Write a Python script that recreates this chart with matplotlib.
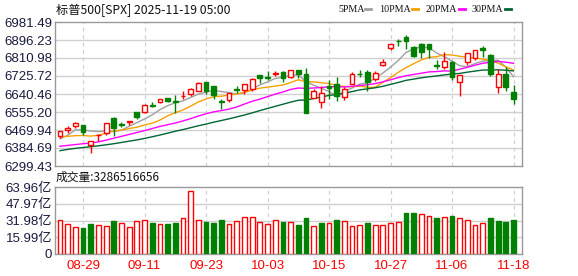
import matplotlib.pyplot as plt
import numpy as np

plt.rcParams['font.family'] = ['Liberation Sans', 'Noto Sans CJK SC', 'DejaVu Sans']

# trading days shown (08-26 .. 11-18)
dates = ['08-26', '08-27', '08-28', '08-29', '09-02', '09-03', '09-04', '09-05', '09-08', '09-09',
         '09-10', '09-11', '09-12', '09-15', '09-16', '09-17', '09-18', '09-19', '09-22', '09-23',
         '09-24', '09-25', '09-26', '09-29', '09-30', '10-01', '10-02', '10-03', '10-06', '10-07',
         '10-08', '10-09', '10-10', '10-13', '10-14', '10-15', '10-16', '10-17', '10-20', '10-21',
         '10-22', '10-23', '10-24', '10-27', '10-28', '10-29', '10-30', '10-31', '11-03', '11-04',
         '11-05', '11-06', '11-07', '11-10', '11-11', '11-12', '11-13', '11-14', '11-17', '11-18']

opens = [6441, 6468, 6490, 6492, 6401, 6444, 6456, 6527, 6498, 6506,
         6553, 6556, 6590, 6603, 6620, 6608, 6629, 6641, 6655, 6696,
         6678, 6607, 6614, 6663, 6661, 6665, 6731, 6722, 6737, 6746,
         6722, 6753, 6735, 6623, 6604, 6680, 6686, 6625, 6690, 6737,
         6745, 6710, 6776, 6856, 6893, 6910, 6865, 6877, 6875, 6776,
         6770, 6790, 6697, 6790, 6810, 6859, 6826, 6675, 6735, 6648]
highs = [6467, 6487, 6510, 6494, 6417, 6453, 6503, 6533, 6508, 6513,
         6555, 6593, 6601, 6616, 6619, 6638, 6656, 6671, 6699, 6697,
         6679, 6617, 6646, 6679, 6689, 6718, 6731, 6751, 6749, 6749,
         6755, 6756, 6764, 6664, 6680, 6709, 6722, 6672, 6744, 6752,
         6752, 6750, 6807, 6876, 6901, 6920, 6869, 6880, 6879, 6803,
         6839, 6799, 6731, 6832, 6850, 6870, 6829, 6760, 6767, 6684]
lows = [6434, 6458, 6478, 6444, 6361, 6417, 6445, 6443, 6484, 6493,
        6522, 6551, 6578, 6600, 6601, 6551, 6619, 6633, 6655, 6642,
        6618, 6570, 6604, 6643, 6640, 6657, 6693, 6707, 6728, 6699,
        6715, 6717, 6550, 6623, 6575, 6618, 6605, 6610, 6690, 6722,
        6653, 6700, 6774, 6850, 6870, 6855, 6818, 6810, 6812, 6759,
        6760, 6708, 6632, 6777, 6803, 6818, 6724, 6646, 6654, 6591]
closes = [6465.9, 6481.4, 6501.9, 6460.3, 6415.5, 6448.3, 6502.1, 6481.5, 6495.2, 6512.6,
          6532.0, 6587.5, 6584.3, 6615.3, 6606.8, 6600.4, 6632.0, 6664.4, 6693.8, 6656.9,
          6638.0, 6604.7, 6643.7, 6661.2, 6688.5, 6711.2, 6715.4, 6715.8, 6740.3, 6714.6,
          6753.7, 6735.1, 6552.5, 6654.7, 6644.3, 6671.1, 6629.1, 6664.0, 6735.1, 6735.4,
          6699.4, 6738.4, 6791.7, 6875.2, 6890.9, 6890.6, 6822.3, 6840.2, 6852.0, 6771.6,
          6796.3, 6720.3, 6728.8, 6832.4, 6846.6, 6850.9, 6737.5, 6734.1, 6672.4, 6617.3]
prev_close = 6439.3

# volume in 亿
volume = [32.3, 28.4, 25.6, 24.9, 28.7, 27.5, 26.5, 31.6, 29.4, 25.6,
          31.3, 32.3, 29.7, 28.4, 28.4, 29.4, 34.2, 60.0, 32.3, 30.6,
          29.7, 32.6, 28.4, 31.3, 35.1, 35.1, 30.3, 28.4, 32.3, 30.6,
          30.4, 27.8, 34.0, 27.1, 29.4, 30.0, 32.6, 31.6, 27.0, 28.0,
          30.0, 28.0, 28.0, 30.0, 31.0, 39.6, 38.9, 38.0, 36.7, 34.2,
          35.4, 36.4, 34.2, 32.6, 27.8, 29.4, 34.2, 31.9, 30.9, 32.87]

ma5 = [6428, 6445, 6471, 6470, 6465, 6462, 6466, 6462, 6469, 6488,
       6505, 6522, 6542, 6566, 6585, 6599, 6608, 6624, 6640, 6650,
       6657, 6652, 6647, 6641, 6647, 6662, 6684, 6698, 6714, 6720,
       6728, 6732, 6699, 6682, 6668, 6652, 6630, 6653, 6669, 6687,
       6693, 6715, 6740, 6768, 6799, 6837, 6854, 6864, 6859, 6835,
       6817, 6796, 6774, 6770, 6785, 6796, 6799, 6800, 6768, 6722]
ma10 = [6438, 6440, 6443, 6444, 6441, 6445, 6455, 6466, 6469, 6477,
        6483, 6494, 6502, 6517, 6537, 6552, 6565, 6583, 6603, 6617,
        6628, 6630, 6636, 6640, 6648, 6660, 6668, 6673, 6678, 6683,
        6695, 6708, 6699, 6698, 6694, 6690, 6681, 6676, 6675, 6678,
        6672, 6672, 6696, 6718, 6743, 6765, 6784, 6802, 6814, 6817,
        6827, 6825, 6819, 6815, 6810, 6806, 6798, 6787, 6769, 6754]
ma20 = [6393, 6397, 6401, 6405, 6408, 6414, 6422, 6431, 6440, 6449,
        6458, 6467, 6477, 6487, 6495, 6503, 6513, 6524, 6536, 6547,
        6556, 6562, 6569, 6579, 6593, 6606, 6616, 6628, 6640, 6650,
        6662, 6669, 6667, 6669, 6671, 6675, 6675, 6674, 6677, 6681,
        6684, 6690, 6698, 6708, 6718, 6727, 6733, 6739, 6745, 6747,
        6750, 6749, 6758, 6767, 6777, 6786, 6791, 6795, 6791, 6786]
ma30 = [6372, 6378, 6383, 6387, 6391, 6395, 6400, 6405, 6411, 6417,
        6423, 6430, 6438, 6446, 6455, 6464, 6472, 6481, 6490, 6498,
        6507, 6515, 6523, 6532, 6541, 6551, 6562, 6572, 6582, 6592,
        6602, 6611, 6612, 6619, 6626, 6634, 6638, 6644, 6652, 6660,
        6665, 6670, 6677, 6686, 6695, 6705, 6711, 6717, 6722, 6726,
        6731, 6735, 6738, 6744, 6749, 6754, 6754, 6755, 6753, 6750]

price_ticks = [6299.43, 6384.69, 6469.94, 6555.20, 6640.46, 6725.72, 6810.98, 6896.23, 6981.49]
vol_ticks = [0, 15.99, 31.98, 47.97, 63.96]
label_dates = ['08-29', '09-11', '09-23', '10-03', '10-15', '10-27', '11-06', '11-18']

RED = '#ff0000'
GREEN = '#008000'
FRAME = '#999999'
GRID = '#d0d0d0'
TXT = '#1a1a40'

W, H = 578, 276
fig = plt.figure(figsize=(W / 100, H / 100), dpi=100)
ax = fig.add_axes([55 / W, 1 - 166 / H, 467 / W, 144 / H])
axv = fig.add_axes([55 / W, 1 - 254 / H, 467 / W, 67 / H])

x = np.arange(len(dates))
o = np.array(opens)
c = np.array(closes)
up = c >= o
label_idx = [dates.index(d) for d in label_dates]

for a in (ax, axv):
    a.set_xlim(-0.65, 60.1)
    for s in a.spines.values():
        s.set_color(FRAME)
        s.set_linewidth(1)
    for i in label_idx:
        a.axvline(i, color=GRID, lw=0.9, ls=(0, (3, 3)), zorder=0)
    a.tick_params(length=0, labelsize=9.5, colors=TXT, pad=2)
    a.set_xticks([])

# price panel
ax.set_ylim(price_ticks[0], price_ticks[-1])
ax.set_yticks(price_ticks)
ax.set_yticklabels(['%.2f' % v for v in price_ticks])
for v in price_ticks[1:-1]:
    ax.axhline(v, color=GRID, lw=1, zorder=0)

ax.plot(x, ma5, color='#a0a0a0', lw=1, zorder=2)
ax.plot(x, ma10, color='#f5a000', lw=1, zorder=2)
ax.plot(x, ma20, color='#ff00ff', lw=1, zorder=2)
ax.plot(x, ma30, color='#006633', lw=1, zorder=2)

cols = np.where(up, RED, GREEN)
ax.vlines(x, lows, highs, colors=cols, lw=1, zorder=3)
body_lo = np.minimum(o, c)
body_h = np.maximum(np.abs(c - o), 1.2)
ax.bar(x[up], body_h[up], bottom=body_lo[up], width=0.62, facecolor='white',
       edgecolor=RED, lw=1, zorder=4)
ax.bar(x[~up], body_h[~up], bottom=body_lo[~up], width=0.62, facecolor=GREEN,
       edgecolor=GREEN, lw=1, zorder=4)

# volume panel
axv.set_ylim(0, vol_ticks[-1])
axv.set_yticks(vol_ticks)
axv.set_yticklabels(['0'] + ['%.2f亿' % v for v in vol_ticks[1:]])
for v in vol_ticks[1:-1]:
    axv.axhline(v, color=GRID, lw=1, zorder=0)
pc = np.array([prev_close] + closes[:-1])
vup = c >= pc
vol = np.array(volume)
axv.bar(x[vup], vol[vup], width=0.62, facecolor='white', edgecolor=RED, lw=1, zorder=3)
axv.bar(x[~vup], vol[~vup], width=0.62, facecolor=GREEN, edgecolor=GREEN, lw=1, zorder=3)

# date labels under the volume panel
for i, d in zip(label_idx, label_dates):
    xf = (55 + (i + 0.65) / 60.75 * 467) / W
    fig.text(xf, 1 - 266 / H, d, ha='center', va='center', color=RED, fontsize=9.5)

# header texts
fig.text(56 / W, 1 - 10 / H, '标普500[SPX] 2025-11-19 05:00', fontsize=8.8,
         family=['Noto Sans CJK SC', 'DejaVu Sans'], va='center', ha='left', color='#111111')
fig.text(56 / W, 1 - 177 / H, '成交量:3286516656', fontsize=8.5,
         family=['Noto Sans CJK SC', 'DejaVu Sans'], va='center', ha='left', color='#111111')

legend = [('5PMA', '#a0a0a0', 338, 365), ('10PMA', '#f5a000', 379, 412),
          ('20PMA', '#ff00ff', 426, 459), ('30PMA', '#006633', 472, 505)]
for name, col, px, mx in legend:
    fig.text(px / W, 1 - 9 / H, name, fontsize=7.2, family='Liberation Serif',
             va='center', ha='left', color='#111111')
    fig.add_artist(plt.Line2D([mx / W, (mx + 6) / W], [1 - 9 / H, 1 - 9 / H],
                              color=col, lw=2, transform=fig.transFigure))

fig.savefig('out.png', dpi=100)
